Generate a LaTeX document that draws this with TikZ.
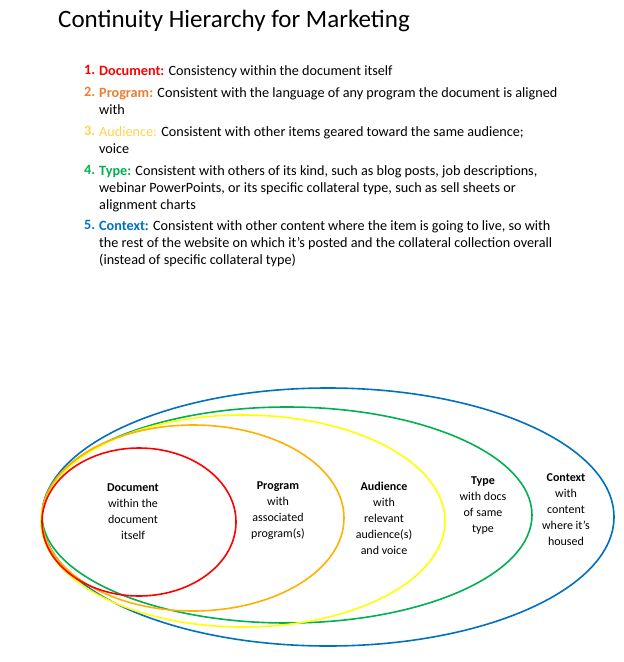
\documentclass[tikz,border=0pt]{standalone}
\usepackage{fontspec}
\setmainfont{Carlito}
\definecolor{cred}{HTML}{FF0000}
\definecolor{corg}{HTML}{ED7D31}
\definecolor{camb}{HTML}{FFB000}
\definecolor{cyel}{HTML}{FFFF00}
\definecolor{cyt}{HTML}{FFD24D}
\definecolor{cgrn}{HTML}{00B050}
\definecolor{cblu}{HTML}{0070C0}
\begin{document}
\begin{tikzpicture}[x=1pt,y=-1pt,
  item/.style={anchor=north west,align=left,font=\fontsize{14.2}{17}\selectfont,inner sep=0},
  num/.style={anchor=north west,font=\fontsize{14.2}{17}\selectfont\bfseries,inner sep=0},
  ring/.style={line width=1.6pt},
  lab/.style={align=center,font=\fontsize{12}{16}\selectfont,inner sep=0}]
\useasboundingbox (0,0) rectangle (624,662);
\node[anchor=west,inner sep=0,font=\fontsize{25}{28}\selectfont] (title) at (58,21) {Continuity Hierarchy for Marketing};
\node[num,text=cred] (n1) at (84,65) {1.};
\node[item] (t1) at (99,65) {\textbf{\color{cred}Document:} Consistency within the document itself};
\node[num,text=corg] (n2) at (84,87) {2.};
\node[item] (t2) at (99,87) {\textbf{\color{corg}Program:} Consistent with the language of any program the document is aligned\\with};
\node[num,text=cyt] (n3) at (84,126) {3.};
\node[item] (t3) at (99,126) {{\color{cyt}Audience:} Consistent with other items geared toward the same audience;\\voice};
\node[num,text=cgrn] (n4) at (84,165) {4.};
\node[item] (t4) at (99,165) {\textbf{\color{cgrn}Type:} Consistent with others of its kind, such as blog posts, job descriptions,\\webinar PowerPoints, or its specific collateral type, such as sell sheets or\\alignment charts};
\node[num,text=cblu] (n5) at (84,220) {5.};
\node[item] (t5) at (99,220) {\textbf{\color{cblu}Context:} Consistent with other content where the item is going to live, so with\\the rest of the website on which it’s posted and the collateral collection overall\\(instead of specific collateral type)};
\draw[ring,cblu] (328,517) ellipse[x radius=286,y radius=129];
\draw[ring,cgrn] (287,515) ellipse[x radius=245,y radius=108];
\draw[ring,cyel] (243,521) ellipse[x radius=202,y radius=106];
\draw[ring,camb] (193,518) ellipse[x radius=151,y radius=93];
\draw[ring,cred] (139,522) ellipse[x radius=97,y radius=74];
\node[lab,anchor=north] (l1) at (133,484) {\textbf{Document}\\within the\\document\\itself};
\node[lab,anchor=north] (l2) at (278,482) {\textbf{Program}\\with\\associated\\program(s)};
\node[lab,anchor=north] (l3) at (384,482) {\textbf{Audience}\\with\\relevant\\audience(s)\\and voice};
\node[lab,anchor=north] (l4) at (483,477) {\textbf{Type}\\with docs\\of same\\type};
\node[lab,anchor=north] (l5) at (566,473) {\textbf{Context}\\with\\content\\where it’s\\housed};
\end{tikzpicture}
\end{document}
